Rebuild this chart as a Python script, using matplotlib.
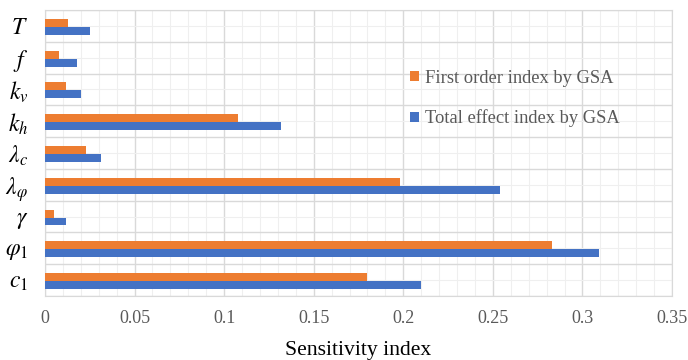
import numpy as np
import matplotlib.pyplot as plt
from matplotlib.ticker import MultipleLocator

# parameters listed bottom to top as they appear on the chart
params = [r"$c_1$", r"$\varphi_1$", r"$\gamma$", r"$\lambda_\varphi$", r"$\lambda_c$",
          r"$k_h$", r"$k_v$", r"$f$", r"$T$"]
first_order = [0.180, 0.283, 0.005, 0.198, 0.023, 0.108, 0.012, 0.008, 0.013]
total_effect = [0.210, 0.309, 0.012, 0.254, 0.031, 0.132, 0.020, 0.018, 0.025]

plt.rcParams['font.family'] = ['Liberation Serif', 'DejaVu Serif']
plt.rcParams['mathtext.fontset'] = 'stix'

fig = plt.figure(figsize=(6.88, 3.6), dpi=100)
ax = fig.add_axes([45 / 688, 64 / 360, 627 / 688, 286 / 360])

y = np.arange(len(params))
h = 0.25
ax.barh(y + h / 2 - 0.03, first_order, height=h, color="#ED7D31",
        label="First order index by GSA", zorder=3)
ax.barh(y - h / 2 - 0.03, total_effect, height=h, color="#4472C4",
        label="Total effect index by GSA", zorder=3)

ax.set_xlim(0, 0.35)
ax.set_ylim(-0.5, len(params) - 0.5)
ax.xaxis.set_minor_locator(MultipleLocator(0.01))
ax.set_xticks(np.arange(0, 0.351, 0.05))
ax.set_xticklabels(["0", "0.05", "0.1", "0.15", "0.2", "0.25", "0.3", "0.35"])
ax.set_yticks(y)
ax.set_yticklabels(params)
ax.set_yticks(np.arange(-0.5, len(params), 1.0), minor=True)

ax.grid(which="major", axis="x", color="#d9d9d9", lw=1.0, zorder=0)
ax.grid(which="minor", axis="x", color="#efefef", lw=0.8, zorder=0)
ax.grid(which="minor", axis="y", color="#d9d9d9", lw=1.0, zorder=0)
ax.grid(which="major", axis="y", color="#efefef", lw=0.8, zorder=0)

ax.tick_params(axis="x", which="both", length=0, pad=10, labelsize=13, labelcolor="#595959")
ax.tick_params(axis="y", which="both", length=0, pad=12, labelsize=17, labelcolor="black")
for s in ax.spines.values():
    s.set_color("#d9d9d9")

ax.set_xlabel("Sensitivity index", fontsize=15.6, labelpad=10)

ax.legend(loc="upper left", bbox_to_anchor=(0.555, 0.85), frameon=False,
          fontsize=13.3, labelcolor="#595959", labelspacing=1.25,
          handlelength=0.5, handleheight=0.5, handletextpad=0.35)

fig.savefig("out.png", dpi=100)
